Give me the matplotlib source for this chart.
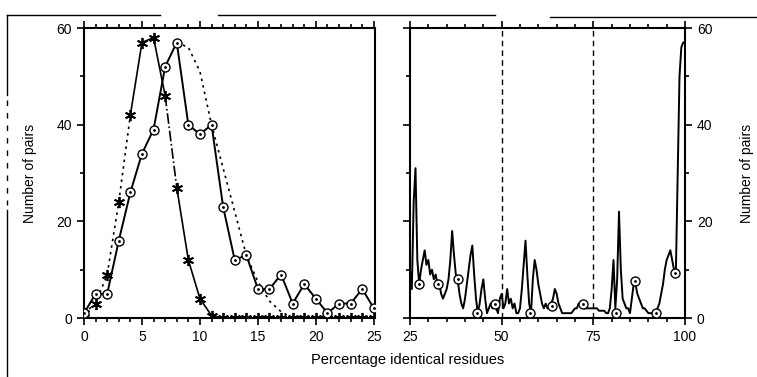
import numpy as np
import matplotlib.pyplot as plt
from matplotlib.lines import Line2D
from matplotlib.ticker import MultipleLocator

plt.rcParams['font.family'] = ['Liberation Sans', 'DejaVu Sans']

# --- low identity range (0-25 %) ---
pct_low = list(range(26))
pairs_circles = [1, 5, 5, 16, 26, 34, 39, 52, 57, 40, 38, 40, 23, 12, 13,
                 6, 6, 9, 3, 7, 4, 1, 3, 3, 6, 2]
pairs_crosses = [1, 3, 9, 24, 42, 57, 58, 46, 27, 12, 4, 0.5, 0, 0, 0,
                 0, 0, 0, 0, 0, 0, 0, 0, 0, 0, 0]
pct_dotted = list(range(8, 26))
pairs_dotted = [57, 56, 51, 40, 31, 22, 13, 7.5, 3.5, 1.3, 0, 0, 0, 0, 0, 0, 0, 0]

# --- high identity range (25-100 %), sampled every 0.5 % ---
pct_high = np.arange(25, 100.25, 0.5)
pairs_high = [10, 6, 24, 31, 12, 7, 10, 12, 14, 11,
              12, 9, 10, 8, 9, 7, 7, 5, 4, 5,
              6, 8, 12, 18, 13, 9, 8, 5, 3, 2,
              4, 7, 10, 13, 15, 9, 4, 1, 3, 6,
              8, 4, 1, 2, 3, 2, 3, 2, 1, 4,
              5, 2, 3, 6, 3, 4, 2, 3, 1, 1,
              2, 6, 11, 16, 9, 3, 1, 8, 12, 10,
              7, 5, 3, 2, 3, 2, 2, 3, 4, 6,
              5, 3, 2, 1, 1, 1, 1, 1, 1, 1.5,
              2, 2, 3, 3, 3, 2, 2, 2, 2, 2,
              2, 2, 2, 1.5, 1.5, 1.5, 1.5, 1, 1, 2,
              6, 12, 2, 8, 22, 10, 4, 3, 2, 2,
              1, 4, 7, 7, 5, 4, 3, 2, 2, 1.5,
              1, 1, 1, 1, 1, 2, 3, 5, 7, 10,
              12, 13, 14, 12, 10, 9, 30, 50, 56, 57,
              57]
pct_high_circ = [27.5, 32.7, 38, 43.2, 48.2, 57.7, 63.8, 72.2, 81.2, 86.4, 92.2, 97.3]
pairs_high_circ = [7, 7, 8, 1, 3, 1, 2.5, 3, 1, 7.6, 1, 9.3]


def circles(ax, x, y):
    ax.plot(x, y, 'o', ms=6.5, mfc='white', mec='black', mew=1.0, zorder=4)
    ax.plot(x, y, '.', ms=2, color='black', zorder=5)


def style_axis(ax):
    for sp in ax.spines.values():
        sp.set_linewidth(1.5)
    ax.tick_params(which='both', direction='out', top=True, width=1.2,
                   labelsize=10)
    ax.tick_params(which='major', length=5)
    ax.tick_params(which='minor', length=3)
    ax.set_ylim(0, 60)
    ax.yaxis.set_major_locator(MultipleLocator(20))
    ax.yaxis.set_minor_locator(MultipleLocator(10))


fig = plt.figure(figsize=(7.57, 3.77), dpi=100)
ax1 = fig.add_axes([84 / 757, 1 - 318 / 377, 291 / 757, 290 / 377])
ax2 = fig.add_axes([410 / 757, 1 - 318 / 377, 275 / 757, 290 / 377])

# left panel
lk = dict(color='black', lw=1.2)
ax1.plot(pct_dotted, pairs_dotted, ls=(0, (1.5, 2.5)), color='black', lw=1.2)
ax1.plot(pct_low[:5], pairs_crosses[:5], ls=(0, (1.5, 2.5)), **lk)
ax1.plot(pct_low[4:8], pairs_crosses[4:8], ls='-', **lk)
ax1.plot(pct_low[7:9], pairs_crosses[7:9], ls='-.', **lk)
ax1.plot(pct_low[8:], pairs_crosses[8:], ls='-', **lk)
ax1.plot(pct_low, pairs_crosses, ls='none', marker=(6, 2, 0), ms=8,
         mew=1.3, color='black', zorder=3)
ax1.plot(pct_low, pairs_circles, ls='-', color='black', lw=1.4)
circles(ax1, pct_low, pairs_circles)
ax1.set_xlim(0, 25.1)
ax1.xaxis.set_major_locator(MultipleLocator(5))
ax1.xaxis.set_minor_locator(MultipleLocator(1))
style_axis(ax1)
ax1.set_ylabel('Number of pairs', fontsize=10, labelpad=14)

# right panel
ax2.plot(pct_high, pairs_high, color='black', lw=1.4)
circles(ax2, pct_high_circ, pairs_high_circ)
for xv in (50, 75):
    ax2.axvline(xv, color='black', lw=1.0, ls=(0, (4, 3)))
ax2.set_xlim(25, 100)
ax2.xaxis.set_major_locator(MultipleLocator(25))
ax2.xaxis.set_minor_locator(MultipleLocator(5))
style_axis(ax2)
ax2.tick_params(which='both', right=True, labelright=True, labelleft=False)
ax2.yaxis.set_label_position('right')
ax2.set_ylabel('Number of pairs', fontsize=10, rotation=90, labelpad=20)

fig.text(408 / 757, 1 - 360 / 377, 'Percentage identical residues',
         ha='center', va='center', fontsize=10.5)

# scan frame remnants
def fline(xs, ys, **kw):
    fig.add_artist(Line2D([x / 757 for x in xs], [1 - y / 377 for y in ys],
                          transform=fig.transFigure, color='black', lw=1.0, **kw))

fline([7, 160], [15, 15])
fline([218, 495], [15, 15])
fline([550, 757], [17, 17])
fline([7, 7], [15, 95])
fline([7, 7], [100, 205], ls=(0, (4, 5)))
fline([7, 7], [210, 377])

fig.savefig('out.png', dpi=100)
